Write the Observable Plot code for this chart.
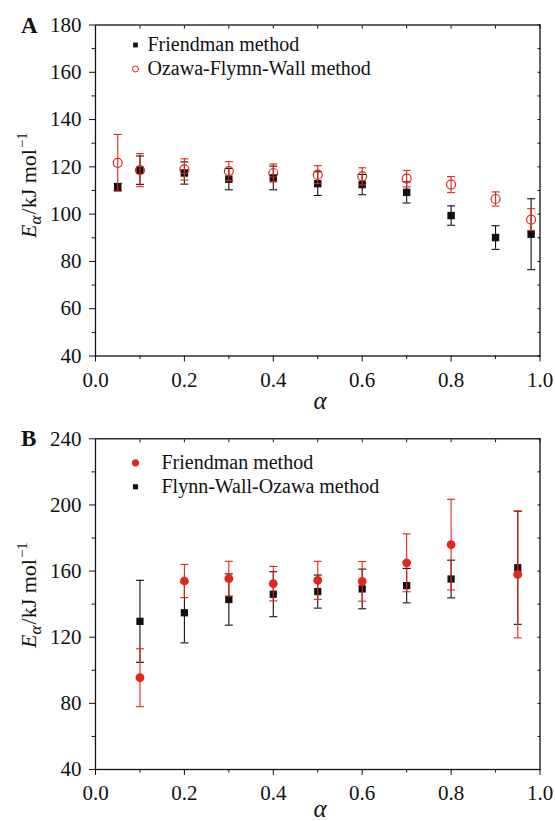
<!DOCTYPE html>
<html><head><meta charset="utf-8">
<script src="https://cdn.jsdelivr.net/npm/d3@7"></script>
<script src="https://cdn.jsdelivr.net/npm/@observablehq/plot@0.6"></script>
<style>
body{margin:0;background:#fff;}
#chart{width:555px;}
#chart svg{display:block;}
#chart svg, #chart svg text{font-family:"Liberation Serif","Times New Roman",serif !important;}
</style>
</head><body><div id="chart"></div>
<script>
// ---- Panel A data ----
const alphaA = [0.05, 0.1, 0.2, 0.3, 0.4, 0.5, 0.6, 0.7, 0.8, 0.9, 0.98];
const friedmanA = [111.5, 118.6, 117.4, 114.8, 115.3, 112.9, 112.5, 109.2, 99.4, 90.1, 91.5];
const friedmanAErr = [1.5, 6, 4.7, 4.5, 5, 5, 4.3, 4.5, 4.1, 5, 15];
const ozawaA = [121.7, 118.6, 118.9, 118.2, 117.4, 116.7, 116, 115, 112.5, 106.4, 97.7];
const ozawaAErr = [12, 7, 4.5, 4, 3.8, 3.8, 3.6, 3.5, 3.4, 3, 4.6];
const legendA = ["Friendman method", "Ozawa-Flymn-Wall method"];

// ---- Panel B data ----
const alphaB = [0.1, 0.2, 0.3, 0.4, 0.5, 0.6, 0.7, 0.8, 0.95];
const friedmanB = [95.5, 154, 155.4, 152.4, 154.4, 153.8, 165, 176, 158];
const friedmanBErr = [17.5, 10, 10.5, 10.4, 11.5, 12, 17.5, 27.4, 38.4];
const fwoB = [129.6, 134.8, 142.8, 146, 147.6, 149.2, 151.2, 155.2, 162];
const fwoBErr = [24.8, 18.2, 15.5, 13.6, 10, 12, 10.4, 11.4, 34.2];
const legendB = ["Friendman method", "Flynn-Wall-Ozawa method"];

// ---- ticks ----
const xMajor = [0, 0.2, 0.4, 0.6, 0.8, 1.0];
const xMinor = [0.1, 0.3, 0.5, 0.7, 0.9];
const yMajorA = [40, 60, 80, 100, 120, 140, 160, 180];
const yMinorA = [50, 70, 90, 110, 130, 150, 170];
const yMajorB = [40, 80, 120, 160, 200, 240];
const yMinorB = [60, 100, 140, 180, 220];

const red = "#e2281d";
const ink = "#111111";
const serif = "Liberation Serif, Times New Roman, serif";
const capSymbol = {draw(ctx, size) { const w = Math.sqrt(size / Math.PI); ctx.moveTo(-w, 0); ctx.lineTo(w, 0); }};

const rows = (xs, ys, es) => xs.map((x, i) => ({x, y: ys[i], e: es[i]}));

function errorMarks(data, color) {
  return [
    Plot.ruleX(data, {x: "x", y1: d => d.y - d.e, y2: d => d.y + d.e, stroke: color, strokeWidth: 1.1}),
    Plot.dot(data, {x: "x", y: d => d.y - d.e, symbol: capSymbol, r: 4, stroke: color, fill: "none", strokeWidth: 1.1}),
    Plot.dot(data, {x: "x", y: d => d.y + d.e, symbol: capSymbol, r: 4, stroke: color, fill: "none", strokeWidth: 1.1})
  ];
}

function axes(yMajor, yMinor) {
  return [
    Plot.axisX({anchor: "bottom", ticks: xMajor, tickSize: 6, tickPadding: 10, tickFormat: d3.format(".1f"), fontSize: 21, label: null, stroke: ink, fill: ink}),
    Plot.axisX({anchor: "bottom", ticks: xMinor, tickSize: 3.5, stroke: ink, fill: "none"}),
    Plot.axisY({anchor: "left", ticks: yMajor, tickSize: 6, tickPadding: 8, tickFormat: d3.format("d"), fontSize: 21, label: null, stroke: ink, fill: ink}),
    Plot.axisY({anchor: "left", ticks: yMinor, tickSize: 3.5, stroke: ink, fill: "none"}),
    Plot.axisX({anchor: "top", ticks: [...xMajor, ...xMinor], tickSize: 3, dy: 3, stroke: ink, fill: "none"}),
    Plot.axisY({anchor: "right", ticks: [...yMajor, ...yMinor], tickSize: 3, dx: -3, stroke: ink, fill: "none"})
  ];
}

function yLabel(svg, cx, cy) {
  const t = d3.select(svg).append("text")
    .attr("transform", `translate(${cx},${cy}) rotate(-90)`)
    .attr("text-anchor", "middle").attr("font-size", 22).attr("fill", ink);
  t.append("tspan").attr("font-style", "italic").text("E");
  t.append("tspan").attr("font-style", "italic").attr("font-size", 17).attr("dy", 5).text("α");
  t.append("tspan").attr("dy", -5).attr("dx", 1).text("/kJ mol");
  t.append("tspan").attr("font-size", 15).attr("dy", -9).attr("dx", 1).text("−1");
}
function addText(svg, x, y, txt, opts = {}) {
  d3.select(svg).append("text").attr("x", x).attr("y", y)
    .attr("text-anchor", opts.anchor || "start")
    .attr("font-size", opts.size || 20).attr("font-weight", opts.weight || "normal")
    .attr("font-style", opts.style || "normal").attr("fill", ink).text(txt);
}

const FA = rows(alphaA, friedmanA, friedmanAErr);
const OA = rows(alphaA, ozawaA, ozawaAErr);
const FB = rows(alphaB, friedmanB, friedmanBErr);
const WB = rows(alphaB, fwoB, fwoBErr);

const plotA = Plot.plot({
  width: 555, height: 414,
  marginTop: 24.5, marginBottom: 58.5, marginLeft: 95, marginRight: 15.5,
  style: {fontFamily: serif, color: ink, background: "white", overflow: "visible"},
  x: {domain: [0, 1]},
  y: {domain: [40, 180]},
  marks: [
    ...axes(yMajorA, yMinorA),
    ...errorMarks(FA, ink),
    Plot.dot(FA, {x: "x", y: "y", symbol: "square", r: 4.2, fill: ink}),
    ...errorMarks(OA, red),
    Plot.dot(OA, {x: "x", y: "y", r: 4.5, stroke: red, strokeWidth: 1.2, fill: "none"}),
    Plot.frame({stroke: ink, strokeWidth: 1.3}),
    // legend
    Plot.dot([legendA[0]], {frameAnchor: "top-left", dx: 40, dy: 20, symbol: "square", r: 2.7, fill: ink}),
    Plot.dot([legendA[1]], {frameAnchor: "top-left", dx: 40, dy: 44, r: 3, stroke: red, strokeWidth: 1, fill: "none"}),
    Plot.text([legendA[0]], {frameAnchor: "top-left", dx: 52, dy: 20, text: d => d, textAnchor: "start", lineAnchor: "middle", fontSize: 20, fill: ink}),
    Plot.text([legendA[1]], {frameAnchor: "top-left", dx: 52, dy: 44, text: d => d, textAnchor: "start", lineAnchor: "middle", fontSize: 20, fill: ink})
  ]
});

const plotB = Plot.plot({
  width: 555, height: 407,
  marginTop: 24.3, marginBottom: 52, marginLeft: 95, marginRight: 15.5,
  style: {fontFamily: serif, color: ink, background: "white", overflow: "visible"},
  x: {domain: [0, 1]},
  y: {domain: [40, 240]},
  marks: [
    ...axes(yMajorB, yMinorB),
    ...errorMarks(WB, ink),
    Plot.dot(WB, {x: "x", y: "y", symbol: "square", r: 4.1, fill: ink}),
    ...errorMarks(FB, red),
    Plot.dot(FB, {x: "x", y: "y", r: 4.4, fill: red}),
    Plot.frame({stroke: ink, strokeWidth: 1.3}),
    // legend
    Plot.dot([legendB[0]], {frameAnchor: "top-left", dx: 40, dy: 24, r: 3.6, fill: red}),
    Plot.dot([legendB[1]], {frameAnchor: "top-left", dx: 40, dy: 48, symbol: "square", r: 2.9, fill: ink}),
    Plot.text([legendB[0]], {frameAnchor: "top-left", dx: 66, dy: 24, text: d => d, textAnchor: "start", lineAnchor: "middle", fontSize: 20, fill: ink}),
    Plot.text([legendB[1]], {frameAnchor: "top-left", dx: 66, dy: 48, text: d => d, textAnchor: "start", lineAnchor: "middle", fontSize: 20, fill: ink})
  ]
});

yLabel(plotA, 36, 185);
addText(plotA, 21, 33, "A", {size: 23, weight: "bold"});
addText(plotA, 320, 409, "α", {size: 25, style: "italic", anchor: "middle"});

yLabel(plotB, 36, 181);
addText(plotB, 21, 32, "B", {size: 23, weight: "bold"});
addText(plotB, 320, 403, "α", {size: 25, style: "italic", anchor: "middle"});

const root = document.getElementById("chart");
root.appendChild(plotA);
root.appendChild(plotB);
</script>
</body></html>
